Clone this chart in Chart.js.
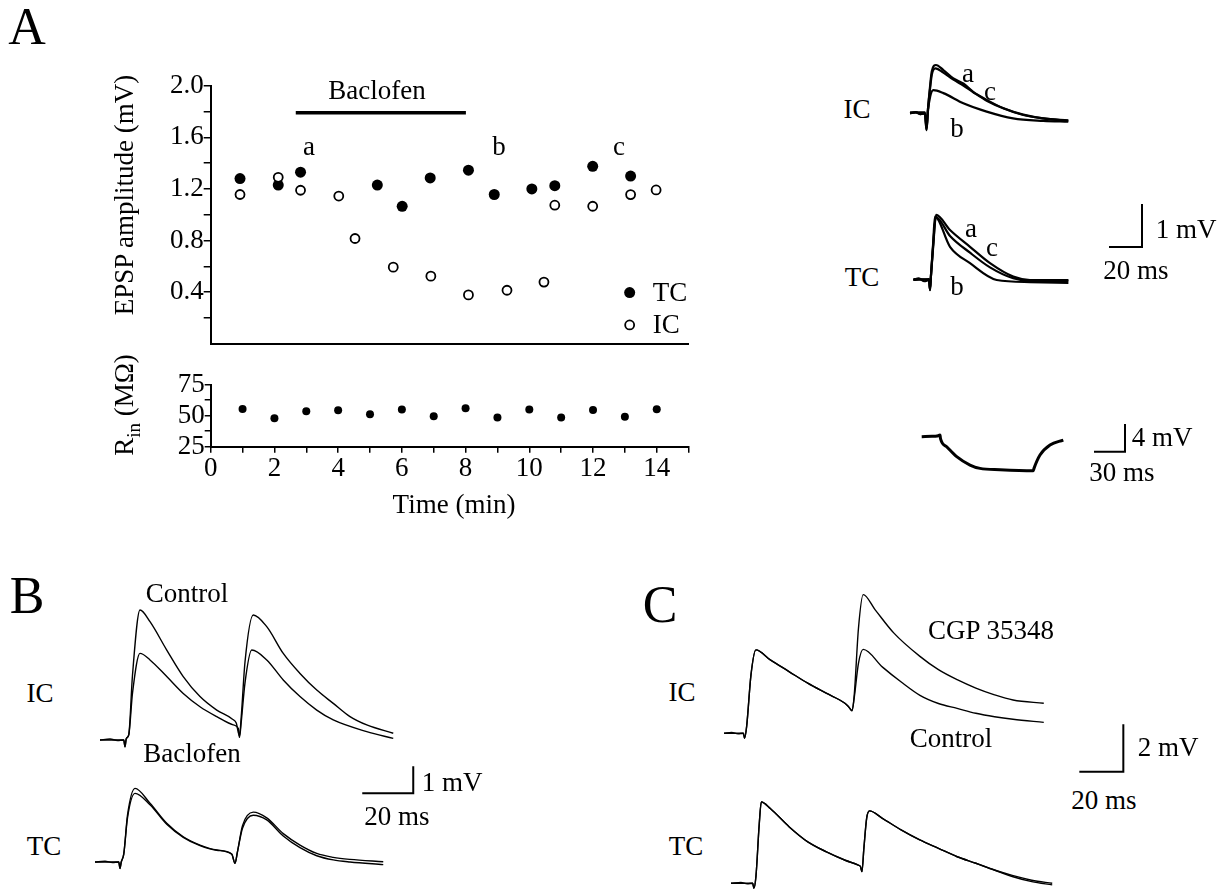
<!DOCTYPE html>
<html>
<head>
<meta charset="utf-8">
<title>Baclofen EPSP figure</title>
<script src="https://cdn.jsdelivr.net/npm/chart.js"></script>
<style>
  html, body { margin: 0; padding: 0; background: #fff; }
  #fig { position: relative; width: 1225px; height: 890px; overflow: hidden;
         font-family: 'Liberation Serif', 'Times New Roman', serif; color: #000; }
  #fig canvas { position: absolute; }
  .lbl { position: absolute; transform: translate(-50%, -50%); white-space: nowrap;
         font-size: 27px; line-height: 1; }
  .big { font-size: 52px; }
  .rot { transform: translate(-50%, -50%) rotate(-90deg); }
  .rot sub { font-size: 19px; }
</style>
</head>
<body>
<div id="fig">
  <!-- panel A, left: EPSP amplitude + input resistance -->
  <canvas id="epspChart" width="600" height="300" style="left:100px;top:60px"></canvas>
  <canvas id="rinChart" width="620" height="160" style="left:100px;top:360px"></canvas>
  <!-- panel A, right: sample traces -->
  <canvas id="aIcChart" width="200" height="110" style="left:900px;top:40px"></canvas>
  <canvas id="aTcChart" width="260" height="120" style="left:900px;top:180px"></canvas>
  <canvas id="aRinChart" width="240" height="80" style="left:900px;top:410px"></canvas>
  <!-- panel B -->
  <canvas id="bIcChart" width="320" height="170" style="left:90px;top:590px"></canvas>
  <canvas id="bTcChart" width="345" height="120" style="left:85px;top:760px"></canvas>
  <!-- panel C -->
  <canvas id="cIcChart" width="415" height="190" style="left:715px;top:585px"></canvas>
  <canvas id="cTcChart" width="350" height="110" style="left:715px;top:780px"></canvas>

  <div class="lbl big" style="left:27px;top:27px">A</div>
  <div class="lbl" style="left:377px;top:90px">Baclofen</div>
  <div class="lbl" style="left:309px;top:146px">a</div>
  <div class="lbl" style="left:499px;top:146px">b</div>
  <div class="lbl" style="left:619px;top:146px">c</div>
  <div class="lbl rot" style="left:124px;top:195px">EPSP amplitude (mV)</div>
  <div class="lbl rot" style="left:127px;top:405px">R<sub>in</sub> (MΩ)</div>
  <div class="lbl" style="left:454px;top:504px">Time (min)</div>

  <div class="lbl" style="left:857px;top:109px">IC</div>
  <div class="lbl" style="left:968px;top:73px">a</div>
  <div class="lbl" style="left:990px;top:91px">c</div>
  <div class="lbl" style="left:957px;top:128px">b</div>
  <div class="lbl" style="left:862px;top:277px">TC</div>
  <div class="lbl" style="left:971px;top:228px">a</div>
  <div class="lbl" style="left:992px;top:247px">c</div>
  <div class="lbl" style="left:957px;top:286px">b</div>
  <div class="lbl" style="left:1186px;top:229px">1 mV</div>
  <div class="lbl" style="left:1136px;top:270px">20 ms</div>
  <div class="lbl" style="left:1162px;top:437px">4 mV</div>
  <div class="lbl" style="left:1122px;top:472px">30 ms</div>

  <div class="lbl big" style="left:27px;top:596px">B</div>
  <div class="lbl" style="left:187px;top:593px">Control</div>
  <div class="lbl" style="left:40px;top:693px">IC</div>
  <div class="lbl" style="left:192px;top:753px">Baclofen</div>
  <div class="lbl" style="left:452px;top:782px">1 mV</div>
  <div class="lbl" style="left:397px;top:816px">20 ms</div>
  <div class="lbl" style="left:44px;top:846px">TC</div>

  <div class="lbl big" style="left:660px;top:605px">C</div>
  <div class="lbl" style="left:991px;top:630px">CGP 35348</div>
  <div class="lbl" style="left:682px;top:692px">IC</div>
  <div class="lbl" style="left:951px;top:738px">Control</div>
  <div class="lbl" style="left:1168px;top:747px">2 mV</div>
  <div class="lbl" style="left:1104px;top:800px">20 ms</div>
  <div class="lbl" style="left:686px;top:846px">TC</div>
</div>

<script>
// ---- values ----
// EPSP amplitude (mV) vs time (min)
const tcTime = [0.92, 2.12, 2.82, 5.23, 6.01, 6.89, 8.09, 8.9, 10.08, 10.8, 11.99, 13.18];
const tcAmp  = [1.28, 1.23, 1.33, 1.23, 1.065, 1.285, 1.345, 1.157, 1.2, 1.225, 1.375, 1.3];
const icTime = [0.92, 2.12, 2.82, 4.02, 4.53, 5.73, 6.91, 8.09, 9.3, 10.46, 10.8, 11.99, 13.18, 13.98];
const icAmp  = [1.157, 1.29, 1.19, 1.145, 0.816, 0.594, 0.524, 0.379, 0.415, 0.478, 1.074, 1.066, 1.156, 1.192];
const baclofenPeriod = [2.67, 8.01];
const baclofenLevel = 1.79;

// input resistance (MOhm)
const rinTime  = [1, 2, 3, 4, 5, 6, 7, 8, 9, 10, 11, 12, 13, 14];
const rinValue = [55.4, 47.9, 53.5, 54.3, 51.1, 55.1, 49.5, 56.0, 48.6, 55.1, 48.6, 54.5, 49.2, 55.2];

// tick values / labels
const epspTicks = [0.2, 0.4, 0.6, 0.8, 1.0, 1.2, 1.4, 1.6, 1.8, 2.0];
const epspTickLabels = ['', '0.4', '', '0.8', '', '1.2', '', '1.6', '', '2.0'];
const rinTicks = [25, 37.5, 50, 62.5, 75];
const rinTickLabels = ['25', '', '50', '', '75'];
const timeTicks = [0, 1, 2, 3, 4, 5, 6, 7, 8, 9, 10, 11, 12, 13, 14, 15];
const timeTickLabels = ['0', '', '2', '', '4', '', '6', '', '8', '', '10', '', '12', '', '14', ''];

// sample traces, [ms, mV] relative to first stimulus / baseline
const aIcTraceA = [[-10.6,0],[-7,0.03],[-4,-0.02],[-1.3,0],[-0.3,-0.4],[0.6,0.1],[1.8,0.6],[3,1.0],[5.6,1.15],[10.2,1.03],[16.5,0.83],[22.7,0.71],[28.9,0.51],[37.3,0.32],[47.7,0.12],[60.2,-0.04],[72.7,-0.12],[88.3,-0.18]];
const aIcTraceB = [[-10.6,0],[-7,0.02],[-4,-0.02],[-1.3,0],[-0.3,-0.4],[0.6,0.05],[2,0.4],[4,0.55],[10.2,0.48],[22.7,0.24],[37.3,0.04],[53.8,-0.12],[72.7,-0.18],[88.3,-0.2]];
const aIcTraceC = [[-10.6,0.02],[-1.3,0.02],[-0.3,-0.35],[0.6,0.1],[1.8,0.55],[3,0.92],[5.3,1.07],[10.2,0.97],[16.5,0.8],[22.7,0.66],[28.9,0.5],[37.3,0.3],[47.7,0.12],[60.2,-0.03],[72.7,-0.12],[88.3,-0.17]];
const aTcTraceA = [[-10.4,0],[-7,0.04],[-3.5,-0.03],[-0.6,0],[0,-0.24],[0.6,0.1],[2,0.8],[3.8,1.55],[12.5,1.19],[25,0.79],[37.5,0.4],[52,0.08],[62.5,0],[86.5,0]];
const aTcTraceB = [[-10.4,0],[-0.6,0.02],[0,-0.24],[0.6,0.1],[2,0.9],[3.1,1.51],[12.5,0.79],[25,0.4],[41.7,0],[62.5,-0.05],[86.5,-0.07]];
const aTcTraceC = [[-10.4,0.02],[-0.6,0],[0,-0.2],[0.6,0.1],[2,0.85],[3.6,1.5],[12.5,1.05],[25,0.65],[37.5,0.3],[52,0.04],[62.5,-0.02],[86.5,-0.02]];
const aRinTrace = [[-18.3,0],[-8,0.05],[-3,0.1],[0,0.25],[0.5,-0.3],[6.7,-1.5],[16.7,-3.0],[30,-4.25],[40,-4.75],[60,-4.95],[93.3,-5.1],[94,-4.75],[100,-2.75],[110,-1.25],[123.3,-0.5]];

const bIcControl  = [[-10,0],[-6,0.04],[-3,-0.02],[-0.5,0],[0,-0.26],[0.5,0.05],[1.5,0.2],[3,2.5],[6,5.0],[10,4.55],[16.7,3.46],[23.3,2.44],[30,1.67],[36.7,1.15],[43,0.8],[44.5,0.65],[45.3,0.3],[45.8,0.15],[46.5,0.9],[48,3.0],[51.3,4.81],[56.7,4.36],[63.3,3.33],[70,2.56],[76.7,1.92],[83.3,1.41],[90,0.9],[96.7,0.58],[107.3,0.26]];
const bIcBaclofen = [[-10,0],[-0.5,0],[0,-0.26],[0.5,0.05],[1.5,0.2],[3,1.8],[6,3.33],[10,3.08],[16.7,2.44],[23.3,1.79],[30,1.28],[36.7,0.9],[43.3,0.58],[45.3,0.45],[45.8,0.1],[46.5,0.7],[48,2.2],[50.7,3.46],[56.7,3.08],[63.3,2.31],[70,1.67],[76.7,1.15],[83.3,0.77],[96.7,0.32],[107.3,0.06]];
const bTcControl  = [[-10,0],[-6,0.03],[-3,-0.02],[-0.5,0],[0,-0.25],[0.5,0],[1.5,0.3],[3,1.8],[6,2.83],[12,2.26],[18.7,1.49],[25.3,0.97],[32,0.65],[38.7,0.46],[44.7,0.31],[46,-0.05],[47,0.4],[49,1.4],[53.3,1.92],[58.7,1.7],[65.3,1.09],[72,0.65],[78.7,0.33],[85.3,0.18],[92,0.1],[105.3,0.01]];
const bTcBaclofen = [[-10,0],[-0.5,0],[0,-0.25],[0.5,0],[1.5,0.3],[3,1.7],[6,2.64],[12,2.2],[18.7,1.45],[25.3,0.95],[32,0.63],[38.7,0.45],[44.7,0.3],[46,-0.05],[47,0.4],[49,1.3],[53.3,1.8],[58.7,1.62],[65.3,1.0],[72,0.55],[78.7,0.24],[85.3,0.08],[92,0.0],[105.3,-0.1]];

const cIcControl = [[-9.5,0],[-6,0.04],[-3,-0.02],[-0.5,0],[0,-0.21],[1,0.3],[3,2.5],[5.3,3.58],[12,3.15],[20.7,2.65],[29.4,2.15],[38,1.72],[46.7,1.29],[48.4,1.14],[50,0.97],[51,1.5],[53,3.0],[55.2,3.6],[64.2,2.84],[72.9,2.2],[81.6,1.63],[90.2,1.28],[98.9,1.07],[107.6,0.86],[116.3,0.71],[124.9,0.6],[139.2,0.47]];
const cIcCgp     = [[-9.5,0],[-0.5,0],[0,-0.21],[1,0.3],[3,2.5],[5.3,3.58],[12,3.15],[20.7,2.65],[29.4,2.15],[38,1.72],[46.7,1.29],[48.4,1.14],[50,0.97],[51,1.6],[53,4.5],[55.2,5.95],[60.7,5.31],[69.4,4.31],[81.6,3.3],[90.2,2.73],[98.9,2.3],[107.6,1.94],[116.3,1.65],[124.9,1.43],[139.2,1.29]];
const cTcControl = [[-10.6,0],[-6,0.04],[-3,-0.02],[-0.5,0],[0,-0.21],[1,0.3],[2.5,2.5],[3.5,3.49],[7.8,3.2],[16.5,2.42],[25.1,1.78],[33.8,1.35],[42.5,0.99],[48.6,0.78],[49.6,0.72],[50.3,0.5],[51.2,1.5],[52.5,2.8],[53.8,3.11],[59.8,2.79],[68.5,2.29],[77.2,1.86],[85.9,1.5],[94.6,1.14],[103.3,0.86],[111.9,0.57],[120.6,0.28],[129.3,0.07],[138.8,-0.07]];
const cTcCgp     = [[-10.6,0],[-0.5,0],[0,-0.21],[1,0.3],[2.5,2.5],[3.5,3.49],[7.8,3.2],[16.5,2.42],[25.1,1.78],[33.8,1.35],[42.5,0.99],[48.6,0.78],[49.6,0.72],[50.3,0.5],[51.2,1.5],[52.5,2.8],[53.8,3.11],[59.8,2.79],[68.5,2.29],[77.2,1.86],[85.9,1.5],[94.6,1.14],[103.3,0.86],[111.9,0.57],[120.6,0.33],[129.3,0.13],[138.8,0.0]];

// scale bars, [ms, mV] corners in each panel's units
const aScaleBar = [[112.5,0.786],[132.5,0.786],[132.5,1.786]];   // 20 ms, 1 mV
const rinScaleBar = [[155,-2.25],[185,-2.25],[185,1.75]];        // 30 ms, 4 mV
const bScaleBar = [[97.3,2.64],[117.3,2.64],[117.3,3.64]];       // 20 ms, 1 mV
const cScaleBar = [[156.2,-1.65],[176.2,-1.65],[176.2,0.35]];    // 20 ms, 2 mV

// ---- chart setup ----
Chart.defaults.font.family = "'Liberation Serif', 'Times New Roman', serif";
Chart.defaults.font.size = 27;
Chart.defaults.color = '#000';
Chart.defaults.animation = false;
Chart.defaults.responsive = false;
Chart.defaults.events = [];
Chart.defaults.plugins.legend.display = false;
Chart.defaults.plugins.tooltip.enabled = false;

function pts(xs, ys) {
    return xs.map((x, i) => ({ x: x, y: ys[i] }));
}

function pairs(arr) {
    return arr.map(p => ({ x: p[0], y: p[1] }));
}

// legend drawn inside the plot area (bottom right), styled from the datasets
const innerLegend = {
    id: 'innerLegend',
    afterDatasetsDraw(chart, args, opts) {
        const ctx = chart.ctx;
        const xs = chart.scales.x, ys = chart.scales.y;
        ctx.save();
        opts.items.forEach(function(it) {
            const ds = chart.data.datasets[it.dataset];
            const px = xs.getPixelForValue(it.x);
            const py = ys.getPixelForValue(it.y);
            ctx.beginPath();
            ctx.arc(px, py, ds.pointRadius, 0, Math.PI * 2);
            ctx.fillStyle = ds.pointBackgroundColor;
            ctx.fill();
            if (ds.pointBorderWidth) {
                ctx.lineWidth = ds.pointBorderWidth;
                ctx.strokeStyle = ds.pointBorderColor;
                ctx.stroke();
            }
            ctx.fillStyle = '#000';
            ctx.font = "27px 'Liberation Serif', serif";
            ctx.textAlign = 'left';
            ctx.textBaseline = 'middle';
            ctx.fillText(ds.label, px + 23, py + 1);
        });
        ctx.restore();
    }
};

const axisLine = { display: true, color: '#000', width: 2 };
const tickGrid = { drawOnChartArea: false, color: '#000', tickColor: '#000', lineWidth: 1.5, tickWidth: 1.5, tickLength: 7 };

// EPSP amplitude
new Chart(document.getElementById('epspChart'), {
    type: 'scatter',
    data: {
        datasets: [
            { label: 'IC', data: pts(icTime, icAmp), pointRadius: 4.5,
              pointBackgroundColor: '#fff', pointBorderColor: '#000', pointBorderWidth: 1.8 },
            { label: 'TC', data: pts(tcTime, tcAmp), pointRadius: 5.5,
              pointBackgroundColor: '#000', pointBorderColor: '#000', pointBorderWidth: 0 },
            { label: 'Baclofen', showLine: true, pointRadius: 0, borderColor: '#000', borderWidth: 3.5,
              data: [{ x: baclofenPeriod[0], y: baclofenLevel }, { x: baclofenPeriod[1], y: baclofenLevel }] }
        ]
    },
    options: {
        layout: { padding: { top: 25.7, right: 11.4, left: 0, bottom: 0 } },
        scales: {
            x: {
                type: 'linear', min: 0, max: 15,
                ticks: { display: false },
                grid: { display: false },
                border: axisLine,
                afterFit: function(s) { s.height = 13.7; }
            },
            y: {
                type: 'linear', min: 0, max: 2,
                afterBuildTicks: function(s) { s.ticks = epspTicks.map(v => ({ value: v })); },
                ticks: { padding: 0, autoSkip: false, callback: (v, i) => epspTickLabels[i] },
                grid: tickGrid,
                border: axisLine,
                afterFit: function(s) { s.width = 110.7; }
            }
        },
        plugins: {
            innerLegend: { items: [ { dataset: 1, x: 13.15, y: 0.397 }, { dataset: 0, x: 13.15, y: 0.146 } ] }
        }
    },
    plugins: [innerLegend]
});

// input resistance
new Chart(document.getElementById('rinChart'), {
    type: 'scatter',
    data: {
        datasets: [
            { label: 'Rin', data: pts(rinTime, rinValue), pointRadius: 4,
              pointBackgroundColor: '#000', pointBorderWidth: 0 }
        ]
    },
    options: {
        layout: { padding: { top: 24.7, right: 31.4, left: 0, bottom: 0 } },
        scales: {
            x: {
                type: 'linear', min: 0, max: 15,
                afterBuildTicks: function(s) { s.ticks = timeTicks.map(v => ({ value: v })); },
                ticks: { padding: 0, autoSkip: false, maxRotation: 0, callback: (v, i) => timeTickLabels[i] },
                grid: Object.assign({}, tickGrid, { tickLength: 6 }),
                border: axisLine,
                afterFit: function(s) { s.height = 73.3; }
            },
            y: {
                type: 'linear', min: 25, max: 75,
                afterBuildTicks: function(s) { s.ticks = rinTicks.map(v => ({ value: v })); },
                ticks: { padding: 0, autoSkip: false, callback: (v, i) => rinTickLabels[i] },
                grid: Object.assign({}, tickGrid, { tickLength: 6 }),
                border: axisLine,
                afterFit: function(s) { s.width = 110.7; }
            }
        }
    }
});

// trace panels: frame = where (0 ms, 0 mV) sits on the canvas and px per unit
function traceChart(id, traces, bar, frame, lineWidth) {
    const canvas = document.getElementById(id);
    const datasets = traces.map(t => ({
        data: pairs(t), borderColor: '#000', borderWidth: lineWidth,
        pointRadius: 0, cubicInterpolationMode: 'monotone'
    }));
    if (bar) {
        datasets.push({ data: pairs(bar), borderColor: '#000', borderWidth: 2, pointRadius: 0, tension: 0,
                        borderCapStyle: 'square' });
    }
    return new Chart(canvas, {
        type: 'line',
        data: { datasets: datasets },
        options: {
            layout: { padding: 0 },
            scales: {
                x: { type: 'linear', display: false,
                     min: -frame.ox / frame.sx, max: (canvas.width - frame.ox) / frame.sx },
                y: { type: 'linear', display: false,
                     min: -(canvas.height - frame.oy) / frame.sy, max: frame.oy / frame.sy }
            }
        }
    });
}

traceChart('aIcChart', [aIcTraceB, aIcTraceC, aIcTraceA], null, { ox: 27, oy: 73.3, sx: 1.6, sy: 42 }, 2.2);
traceChart('aTcChart', [aTcTraceB, aTcTraceC, aTcTraceA], aScaleBar, { ox: 30, oy: 100, sx: 1.6, sy: 42 }, 2.2);
traceChart('aRinChart', [aRinTrace], rinScaleBar, { ox: 40, oy: 26.7, sx: 1, sy: 6.67 }, 3);
traceChart('bIcChart', [bIcControl, bIcBaclofen], null, { ox: 35, oy: 150, sx: 2.5, sy: 26 }, 1.4);
traceChart('bTcChart', [bTcControl, bTcBaclofen], bScaleBar, { ox: 35, oy: 102, sx: 2.5, sy: 26 }, 1.4);
traceChart('cIcChart', [cIcControl, cIcCgp], cScaleBar, { ox: 29.5, oy: 148.3, sx: 2.15, sy: 23.3 }, 1.4);
traceChart('cTcChart', [cTcControl, cTcCgp], null, { ox: 38.8, oy: 103.3, sx: 2.15, sy: 23.3 }, 1.4);
</script>
</body>
</html>
